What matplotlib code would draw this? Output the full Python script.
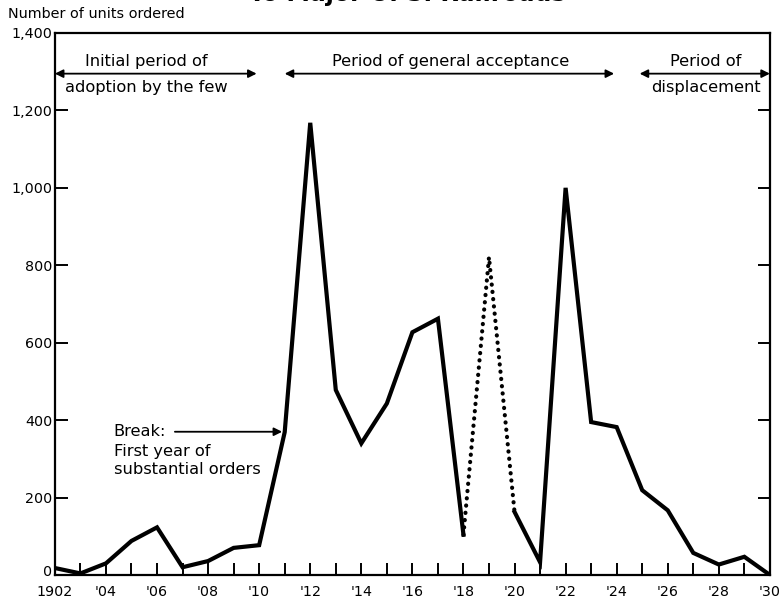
import matplotlib.pyplot as plt
from matplotlib.ticker import FixedLocator, FuncFormatter
from matplotlib.transforms import ScaledTranslation

years = list(range(1902, 1931))
units = [18, 4, 30, 88, 123, 20, 36, 70, 77, 369, 1168, 478, 340, 443,
         627, 662, 104, 821, 163, 33, 1000, 395, 382, 219, 167, 57, 27, 47, 0]

# the 1918-1920 stretch is drawn dotted
solid_a = (years[:17], units[:17])
dotted = (years[16:19], units[16:19])
solid_b = (years[18:], units[18:])

y_ticks = [0, 200, 400, 600, 800, 1000, 1200, 1400]
periods = [
    (1902, 1909.9, 1905.6, ["Initial period of", "adoption by the few"]),
    (1911.0, 1923.9, 1917.5, ["Period of general acceptance", ""]),
    (1924.9, 1930, 1927.5, ["Period of", "displacement"]),
]

plt.rcParams["font.family"] = ["DejaVu Sans"]
fs = 10.3
note_fs = 11.7

fig = plt.figure(figsize=(7.84, 6.0), dpi=100)
ax = fig.add_axes([0.070, 0.0417, 0.912, 0.9033])

ax.plot(*solid_a, color="black", lw=3.0, solid_joinstyle="miter")
ax.plot(*solid_b, color="black", lw=3.0, solid_joinstyle="miter")
ax.plot(*dotted, color="black", lw=3.0, linestyle=(0, (0.05, 1.7)),
        dash_capstyle="round")

ax.set_xlim(1902, 1930)
ax.set_ylim(0, 1400)
for s in ax.spines.values():
    s.set_linewidth(1.6)

ax.xaxis.set_major_locator(FixedLocator(years))
ax.xaxis.set_major_formatter(FuncFormatter(
    lambda v, p: "" if int(round(v)) % 2 else
    ("1902" if int(round(v)) == 1902 else "'" + str(int(round(v)))[2:])))
ax.set_yticks(y_ticks)
ax.set_yticklabels(["{:,}".format(v) for v in y_ticks])
ax.tick_params(axis="x", direction="in", length=9, width=1.4, labelsize=fs, pad=7)
ax.tick_params(axis="y", direction="in", length=9, width=1.4, labelsize=fs,
               right=True, pad=2)
# lift the "0" a little so it clears "1902"
zero = ax.get_yticklabels()[0]
zero.set_transform(zero.get_transform() + ScaledTranslation(0, 3 / 72, fig.dpi_scale_trans))

fig.text(0.010, 0.976, "Number of units ordered", fontsize=10.4, ha="left", va="center")
fig.text(0.52, 0.999, "To Major U. S. Railroads", fontsize=17, fontweight="bold",
         ha="center", va="baseline")

for x0, x1, xc, (top, bottom) in periods:
    ax.annotate("", xy=(x0, 1295), xytext=(x1, 1295),
                arrowprops=dict(arrowstyle="<|-|>", color="black", lw=1.3,
                                mutation_scale=12, shrinkA=0, shrinkB=0))
    ax.text(xc, 1326, top, ha="center", va="center", fontsize=note_fs)
    if bottom:
        ax.text(xc, 1258, bottom, ha="center", va="center", fontsize=note_fs)

ax.annotate("", xy=(1910.9, 370), xytext=(1906.7, 370),
            arrowprops=dict(arrowstyle="-|>", color="black", lw=1.3,
                            mutation_scale=12, shrinkA=0, shrinkB=0))
ax.text(1904.3, 370, "Break:", ha="left", va="center", fontsize=note_fs)
ax.text(1904.3, 320, "First year of", ha="left", va="center", fontsize=note_fs)
ax.text(1904.3, 273, "substantial orders", ha="left", va="center", fontsize=note_fs)

fig.savefig("out.png", dpi=100)
